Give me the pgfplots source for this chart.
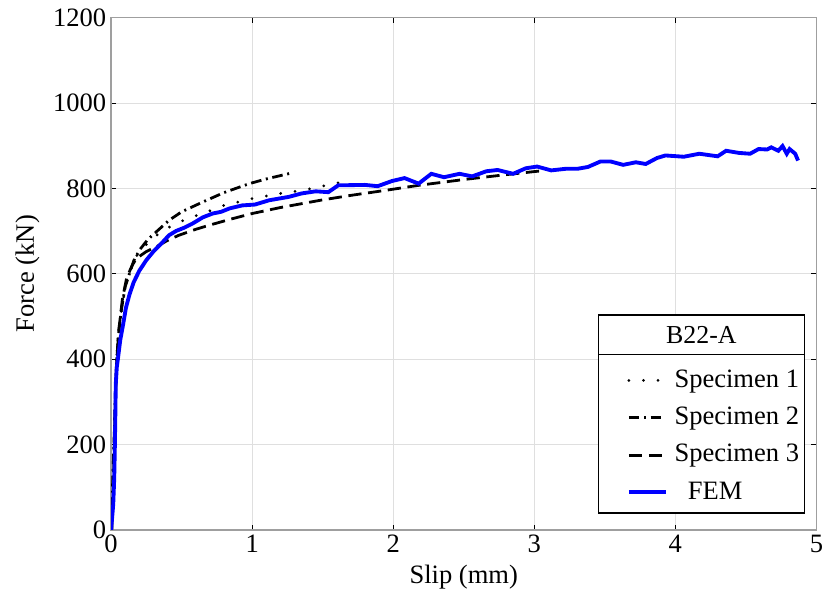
\documentclass[border=0pt]{standalone}
\usepackage{pgfplots}
\pgfplotsset{compat=1.18}
\usepackage{fontspec}
\setmainfont{Liberation Serif}
\begin{document}
\fontsize{19.5}{23}\selectfont
\begin{tikzpicture}[x=0.75pt,y=0.75pt]
\begin{axis}[
  scale only axis,
  width=531.75pt, height=386.25pt,
  xmin=0, xmax=5, ymin=0, ymax=1200,
  xtick={0,1,2,3,4,5}, ytick={0,200,400,600,800,1000,1200},
  /pgf/number format/assume math mode=true,
  /pgf/number format/set thousands separator={},
  tick label style={font=\fontsize{20}{23}\selectfont},
  label style={font=\fontsize{20}{23}\selectfont},
  xlabel={Slip (mm)}, ylabel={Force (kN)},
  xlabel style={yshift=4pt},
  ylabel style={yshift=-3pt},
  grid=major,
  major grid style={gray!25, line width=0.6pt},
  axis line style={gray!75, line width=1.1pt},
  tick style={black, line width=0.6pt},
  tick align=inside,
  major tick length=4pt,
  xticklabel style={yshift=3pt, inner xsep=3pt},
  yticklabel style={xshift=3pt},
  legend style={draw=none, fill=none, inner sep=0pt, row sep=8pt,
    at={(axis cs:3.655,382)}, anchor=north west,
    font=\fontsize{20}{23}\selectfont,
    nodes={inner xsep=5pt}},
  legend cell align=left,
  legend image code/.code={\draw[#1] (0pt,0pt) -- (28pt,0pt);},
]
\addplot[black, line width=2.3pt, line cap=round, dash pattern=on 0pt off 11pt] coordinates {
(0,0) (0.012,100) (0.022,200) (0.03,300) (0.04,400) (0.055,470) (0.08,530) (0.11,580) (0.155,628) (0.2,652) (0.3,685) (0.44,715) (0.55,730) (0.65,741) (0.8,760) (1.0,776) (1.2,788) (1.35,795) (1.5,805) (1.64,815)
};
\addlegendentry{Specimen 1}
\addplot[black, line width=2.1pt, dash pattern=on 8pt off 3.5pt on 1.5pt off 3.5pt] coordinates {
(0,0) (0.01,100) (0.02,200) (0.028,300) (0.037,380) (0.05,450) (0.07,510) (0.1,570) (0.13,600) (0.16,630) (0.2,655) (0.26,680) (0.32,698) (0.41,725) (0.5,745) (0.65,768) (0.8,790) (0.98,811) (1.1,822) (1.28,836)
};
\addlegendentry{Specimen 2}
\addplot[black, line width=2.1pt, dash pattern=on 10pt off 5pt] coordinates {
(0.005,0) (0.015,100) (0.022,200) (0.03,300) (0.04,400) (0.055,470) (0.08,540) (0.11,590) (0.15,620) (0.18,636) (0.25,652) (0.32,663) (0.4,678) (0.48,690) (0.6,704) (0.70,714) (0.85,728) (1.0,741) (1.2,755) (1.35,764) (1.5,773) (1.71,784) (1.94,795) (2.18,807) (2.51,821) (2.8,832) (3.05,841)
};
\addlegendentry{Specimen 3}
\addplot[blue, line width=2.9pt] coordinates {
(0,0) (0.015,60) (0.022,120) (0.026,186) (0.03,270) (0.033,341) (0.04,380) (0.049,403) (0.065,445) (0.085,481) (0.105,520) (0.13,551) (0.16,580) (0.2,607) (0.25,632) (0.3,652) (0.36,672) (0.41,690) (0.46,700) (0.52,708) (0.58,718) (0.65,732) (0.72,741) (0.78,745) (0.84,753) (0.93,760) (1.02,762) (1.12,772) (1.26,780) (1.35,788) (1.45,793) (1.54,791) (1.61,807) (1.80,808) (1.89,805) (1.99,817) (2.08,824) (2.18,811) (2.27,834) (2.36,826) (2.47,834) (2.56,828) (2.66,840) (2.74,843) (2.85,834) (2.94,847) (3.02,851) (3.12,842) (3.23,846) (3.31,846) (3.38,850) (3.47,863) (3.54,863) (3.63,855) (3.72,861) (3.79,857) (3.87,871) (3.93,877) (4.06,874) (4.17,881) (4.30,875) (4.36,888) (4.45,883) (4.53,881) (4.59,892) (4.65,891) (4.68,896) (4.73,888) (4.76,899) (4.79,881) (4.81,892) (4.85,881) (4.87,865)
};
\addlegendentry{\ \ FEM}
\draw[fill=white, line width=1.2pt] (axis cs:3.455,39.6) rectangle (axis cs:4.915,503.3);
\draw[line width=1pt] (axis cs:3.455,410) -- (axis cs:4.915,410);
\node at (axis cs:4.185,457) {B22-A};
\end{axis}
\path ([xshift=-5.25pt]current bounding box.west);
\end{tikzpicture}
\end{document}
